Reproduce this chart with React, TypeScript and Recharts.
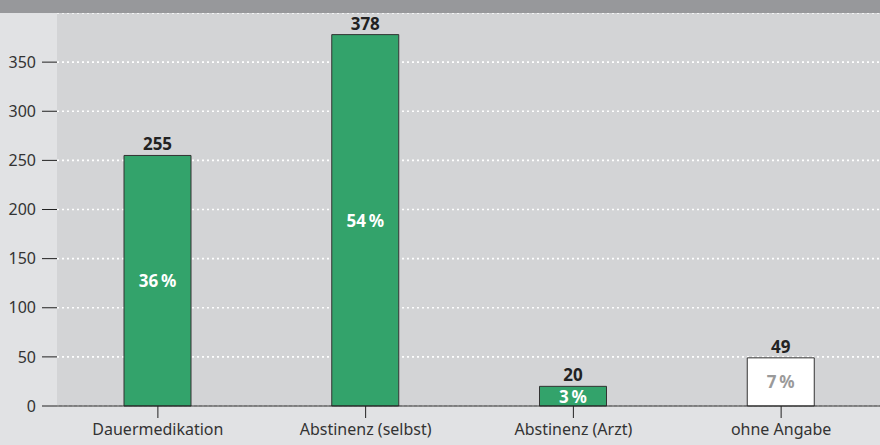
import { BarChart, Bar, XAxis, YAxis, CartesianGrid, LabelList, Cell } from "recharts";

const categories = ["Dauermedikation", "Abstinenz (selbst)", "Abstinenz (Arzt)", "ohne Angabe"];
const counts = [255, 378, 20, 49];
const shares = [36, 54, 3, 7];
const yTicks = [0, 50, 100, 150, 200, 250, 300, 350];

const data = categories.map((name, i) => ({ name, count: counts[i], share: `${shares[i]}\u2009%` }));

const font = "'Noto Sans', 'Open Sans', sans-serif";

const ShareLabel = (props: any) => {
  const { x, y, width, height, value, index } = props;
  const last = index === categories.length - 1;
  return (
    <text
      x={x + width / 2}
      y={y + height / 2}
      textAnchor="middle"
      dominantBaseline="central"
      fill={last ? "#9a9a9a" : "#ffffff"}
      fontWeight={700}
      fontSize={17}
      fontFamily={font}
    >
      {value}
    </text>
  );
};

export default function App() {
  return (
    <div style={{ position: "absolute", left: 0, top: 0, width: 880, height: 445, background: "#e1e2e4", overflow: "hidden" }}>
      <div style={{ position: "absolute", left: 0, top: 0, width: 880, height: 13, background: "#97989b" }} />
      <div style={{ position: "absolute", left: 57, top: 13, width: 823, height: 393, background: "#d3d4d6" }} />
      <div style={{ position: "absolute", left: 0, top: 13 }}>
        <BarChart width={880} height={432} data={data} margin={{ top: 0, right: 0, bottom: 0, left: 0 }}>
          <CartesianGrid horizontal vertical={false} stroke="#ffffff" strokeWidth={1.6} strokeDasharray="2 3" />
          <XAxis
            dataKey="name"
            height={39}
            padding={{ left: -3, right: -5 }}
            axisLine={{ stroke: "#222", strokeWidth: 1 }}
            tickLine={{ stroke: "#222", strokeWidth: 1 }}
            tickSize={12}
            tickMargin={6}
            tick={{ fill: "#333", fontSize: 16, fontFamily: font }}
          />
          <YAxis
            width={57}
            domain={[0, 400]}
            ticks={yTicks}
            axisLine={false}
            tickLine={{ stroke: "#222", strokeWidth: 1 }}
            tickSize={15}
            tickMargin={6}
            tick={{ fill: "#333", fontSize: 16, fontFamily: font }}
          />
          <Bar dataKey="count" barSize={67} stroke="#333" strokeWidth={1} isAnimationActive={false}>
            {data.map((d, i) => (
              <Cell key={d.name} fill={i === categories.length - 1 ? "#ffffff" : "#33a36b"} />
            ))}
            <LabelList dataKey="count" position="top" offset={5} fill="#222" fontWeight={700} fontSize={17} fontFamily={font} />
            <LabelList dataKey="share" content={ShareLabel} />
          </Bar>
        </BarChart>
      </div>
    </div>
  );
}
